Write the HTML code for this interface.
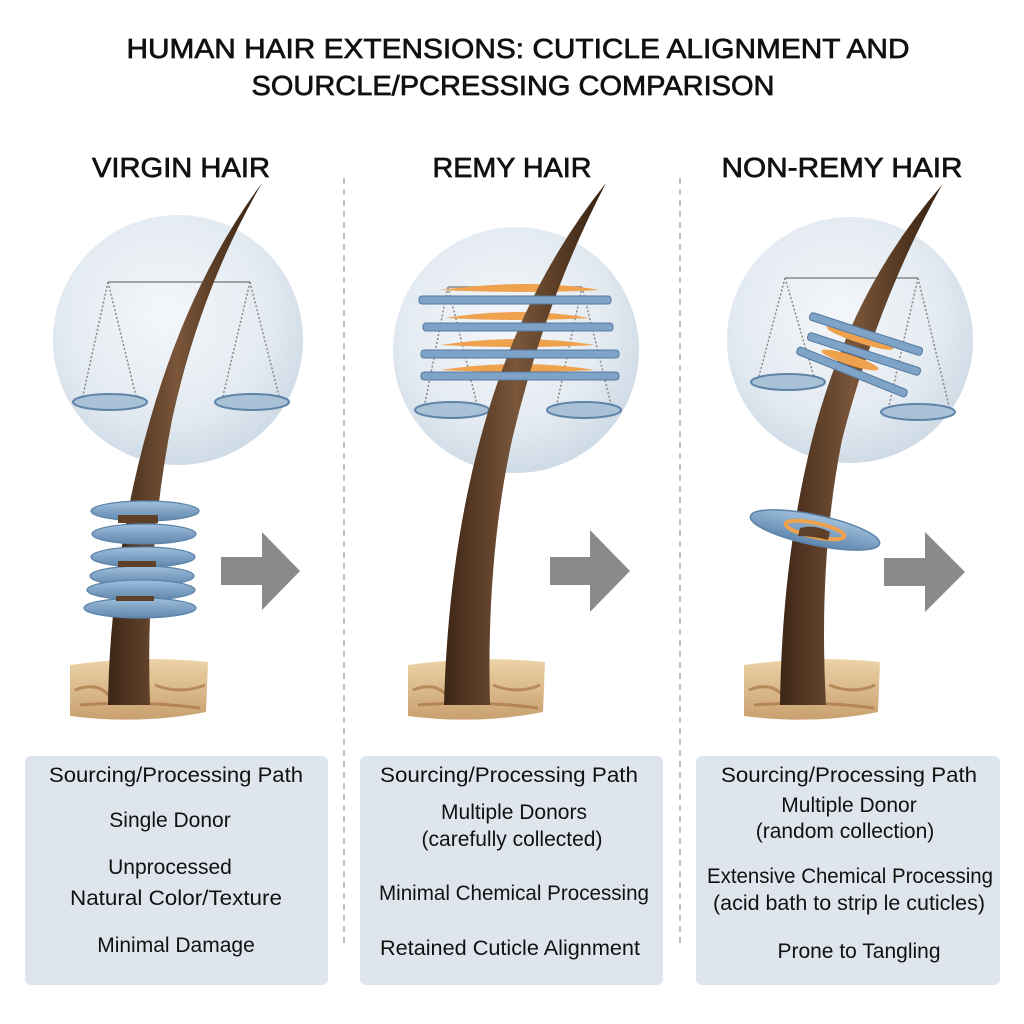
<!DOCTYPE html>
<html><head><meta charset="utf-8"><style>
html,body{margin:0;padding:0;background:#fff}
svg{display:block}
text{font-family:"Liberation Sans",sans-serif;fill:#111}
.h{stroke:#111;stroke-width:0.7}
</style></head><body>
<svg width="1024" height="1024" viewBox="0 0 1024 1024" xmlns="http://www.w3.org/2000/svg">
<defs>
<radialGradient id="cg" cx="0.45" cy="0.4" r="0.6">
<stop offset="0" stop-color="#f4f7fa"/><stop offset="0.7" stop-color="#e3eaf1"/><stop offset="1" stop-color="#cfdbe6"/>
</radialGradient>
<linearGradient id="hg" x1="0" x2="1" y1="0" y2="0">
<stop offset="0" stop-color="#3e2616"/><stop offset="0.45" stop-color="#7a563a"/><stop offset="1" stop-color="#34200f"/>
</linearGradient>
<linearGradient id="dg" x1="0" x2="0" y1="0" y2="1">
<stop offset="0" stop-color="#9fbfdc"/><stop offset="1" stop-color="#5f86ad"/>
</linearGradient>
<linearGradient id="sg" x1="0" x2="0" y1="0" y2="1">
<stop offset="0" stop-color="#ecd3a6"/><stop offset="1" stop-color="#c9a070"/>
</linearGradient>
</defs>

<text class="h" x="518" y="58" font-size="28" text-anchor="middle" textLength="783" lengthAdjust="spacingAndGlyphs">HUMAN HAIR EXTENSIONS: CUTICLE ALIGNMENT AND</text>
<text class="h" x="513" y="95" font-size="28" text-anchor="middle" textLength="523" lengthAdjust="spacingAndGlyphs">SOURCLE/PCRESSING COMPARISON</text>
<text class="h" x="181" y="177" font-size="28" text-anchor="middle" textLength="178" lengthAdjust="spacingAndGlyphs">VIRGIN HAIR</text>
<text class="h" x="512" y="177" font-size="28" text-anchor="middle" textLength="159" lengthAdjust="spacingAndGlyphs">REMY HAIR</text>
<text class="h" x="842" y="177" font-size="28" text-anchor="middle" textLength="241" lengthAdjust="spacingAndGlyphs">NON-REMY HAIR</text>

<line x1="344" y1="178" x2="344" y2="945" stroke="#999" stroke-width="1.2" stroke-dasharray="6,5"/>
<line x1="680" y1="178" x2="680" y2="945" stroke="#999" stroke-width="1.2" stroke-dasharray="6,5"/>

<circle cx="178" cy="340" r="125" fill="url(#cg)"/>
<circle cx="516" cy="350" r="123" fill="url(#cg)"/>
<circle cx="850" cy="340" r="123" fill="url(#cg)"/>

<g stroke="#888" stroke-width="1.5" fill="none">
<line x1="108" y1="282" x2="250" y2="282"/>
<line x1="108" y1="282" x2="82" y2="400" stroke-dasharray="2,2"/><line x1="108" y1="282" x2="137" y2="400" stroke-dasharray="2,2"/>
<line x1="250" y1="282" x2="222" y2="400" stroke-dasharray="2,2"/><line x1="250" y1="282" x2="280" y2="400" stroke-dasharray="2,2"/>
</g>
<ellipse cx="110" cy="402" rx="37" ry="8" fill="#a9c2d8" stroke="#5f84a8" stroke-width="2"/>
<ellipse cx="252" cy="402" rx="37" ry="8" fill="#a9c2d8" stroke="#5f84a8" stroke-width="2"/>
<g stroke="#888" stroke-width="1.5" fill="none">
<line x1="448" y1="287" x2="582" y2="287"/>
<line x1="448" y1="287" x2="424" y2="408" stroke-dasharray="2,2"/><line x1="448" y1="287" x2="478" y2="408" stroke-dasharray="2,2"/>
<line x1="582" y1="287" x2="556" y2="408" stroke-dasharray="2,2"/><line x1="582" y1="287" x2="612" y2="408" stroke-dasharray="2,2"/>
</g>
<ellipse cx="452" cy="410" rx="37" ry="8" fill="#a9c2d8" stroke="#5f84a8" stroke-width="2"/>
<ellipse cx="584" cy="410" rx="37" ry="8" fill="#a9c2d8" stroke="#5f84a8" stroke-width="2"/>
<g stroke="#888" stroke-width="1.5" fill="none">
<line x1="785" y1="278" x2="918" y2="278"/>
<line x1="785" y1="278" x2="758" y2="380" stroke-dasharray="2,2"/><line x1="785" y1="278" x2="815" y2="380" stroke-dasharray="2,2"/>
<line x1="918" y1="278" x2="888" y2="410" stroke-dasharray="2,2"/><line x1="918" y1="278" x2="950" y2="410" stroke-dasharray="2,2"/>
</g>
<ellipse cx="788" cy="382" rx="37" ry="8" fill="#a9c2d8" stroke="#5f84a8" stroke-width="2"/>
<ellipse cx="918" cy="412" rx="37" ry="8" fill="#a9c2d8" stroke="#5f84a8" stroke-width="2"/>

<g fill="#eea24e">
<path d="M440 290 Q530 278 600 290 Q530 294 440 290Z"/>
<path d="M445 318 Q520 306 590 318 Q520 322 445 318Z"/>
<path d="M440 345 Q520 333 595 345 Q520 349 440 345Z"/>
<path d="M440 370 Q520 358 595 370 Q520 374 440 370Z"/>
</g>

<g>
<path d="M70 665 Q140 655 208 662 L206 712 Q140 725 70 716Z" fill="url(#sg)"/>
<path d="M408 665 Q478 655 545 662 L543 712 Q478 725 408 716Z" fill="url(#sg)"/>
<path d="M744 665 Q814 655 880 662 L878 712 Q814 725 744 716Z" fill="url(#sg)"/>
<g stroke="#a36a38" stroke-width="3" fill="none" opacity="0.6">
<path d="M75 690 Q100 680 112 700"/><path d="M155 685 Q180 695 205 685"/><path d="M80 705 Q140 700 200 708"/>
<path d="M413 690 Q438 680 450 700"/><path d="M493 685 Q518 695 540 685"/><path d="M418 705 Q478 700 538 708"/>
<path d="M749 690 Q774 680 786 700"/><path d="M829 685 Q854 695 875 685"/><path d="M754 705 Q814 700 874 708"/>
</g>
</g>

<path d="M108 705 Q110 560 150 420 Q190 280 262 183 Q200 290 172 420 Q145 560 150 705Z" fill="url(#hg)"/>
<g fill="url(#dg)" stroke="#5b82a8" stroke-width="1.2">
<ellipse cx="145" cy="511" rx="54" ry="10"/>
<ellipse cx="144" cy="534" rx="52" ry="10"/>
<ellipse cx="143" cy="557" rx="52" ry="10"/>
<ellipse cx="142" cy="576" rx="52" ry="10"/>
<ellipse cx="141" cy="590" rx="54" ry="10"/>
<ellipse cx="140" cy="608" rx="56" ry="10"/>
</g>
<rect x="118" y="515" width="40" height="8" fill="#5e3f28"/>
<rect x="118" y="561" width="38" height="6" fill="#5e3f28"/>
<rect x="116" y="596" width="38" height="5" fill="#5e3f28"/>

<path d="M444 705 Q448 560 480 440 Q520 290 606 183 Q545 300 512 440 Q486 560 490 705Z" fill="url(#hg)"/>
<g fill="#7ea3c6" stroke="#5579a0" stroke-width="1">
<rect x="419" y="296" width="192" height="8" rx="3"/>
<rect x="423" y="323" width="190" height="8" rx="3"/>
<rect x="421" y="350" width="198" height="8" rx="3"/>
<rect x="421" y="372" width="198" height="8" rx="3"/>
</g>

<path d="M780 705 Q782 560 812 440 Q850 290 942 185 Q878 300 842 440 Q818 560 826 705Z" fill="url(#hg)"/>
<g fill="#eea24e">
<ellipse cx="860" cy="338" rx="35" ry="5" transform="rotate(18 860 338)"/>
<ellipse cx="850" cy="360" rx="30" ry="5" transform="rotate(18 850 360)"/>
</g>
<g fill="#7ea3c6" stroke="#5579a0" stroke-width="1">
<rect x="807" y="330" width="118" height="8" rx="3" transform="rotate(18 866 334)"/>
<rect x="805" y="350" width="118" height="8" rx="3" transform="rotate(18 864 354)"/>
<rect x="793" y="368" width="118" height="8" rx="3" transform="rotate(22 852 372)"/>
</g>
<ellipse cx="815" cy="530" rx="66" ry="15" transform="rotate(12 815 530)" fill="url(#dg)" stroke="#5b82a8" stroke-width="1.5"/>
<ellipse cx="815" cy="530" rx="30" ry="7" transform="rotate(12 815 530)" fill="none" stroke="#eea24e" stroke-width="4"/>
<path d="M800 528 Q815 524 830 532 L828 540 Q812 536 798 536Z" fill="#5e3f28"/>

<g fill="#8a8a8a">
<path d="M221 557 L262 557 L262 532 L300 571 L262 610 L262 585 L221 585Z"/>
<path d="M550 557 L590 557 L590 530 L630 571 L590 612 L590 585 L550 585Z"/>
<path d="M884 558 L925 558 L925 532 L965 572 L925 612 L925 586 L884 586Z"/>
</g>

<rect x="25" y="756" width="303" height="229" rx="6" fill="#dfe5ec"/>
<rect x="360" y="756" width="303" height="229" rx="6" fill="#dfe5ec"/>
<rect x="696" y="756" width="304" height="229" rx="6" fill="#dfe5ec"/>
<g font-size="21" text-anchor="middle">
<text x="176" y="782" textLength="254" lengthAdjust="spacingAndGlyphs">Sourcing/Processing Path</text>
<text x="170" y="827">Single Donor</text>
<text x="170" y="874">Unprocessed</text>
<text x="176" y="905" textLength="212" lengthAdjust="spacingAndGlyphs">Natural Color/Texture</text>
<text x="176" y="952">Minimal Damage</text>

<text x="509" y="782" textLength="258" lengthAdjust="spacingAndGlyphs">Sourcing/Processing Path</text>
<text x="514" y="819">Multiple Donors</text>
<text x="512" y="846">(carefully collected)</text>
<text x="514" y="900" textLength="270" lengthAdjust="spacingAndGlyphs">Minimal Chemical Processing</text>
<text x="510" y="955" textLength="260" lengthAdjust="spacingAndGlyphs">Retained Cuticle Alignment</text>

<text x="849" y="782" textLength="256" lengthAdjust="spacingAndGlyphs">Sourcing/Processing Path</text>
<text x="849" y="812">Multiple Donor</text>
<text x="845" y="838">(random collection)</text>
<text x="850" y="883" textLength="286" lengthAdjust="spacingAndGlyphs">Extensive Chemical Processing</text>
<text x="849" y="910" textLength="272" lengthAdjust="spacingAndGlyphs">(acid bath to strip le cuticles)</text>
<text x="859" y="958">Prone to Tangling</text>
</g>
</svg>
</body></html>
